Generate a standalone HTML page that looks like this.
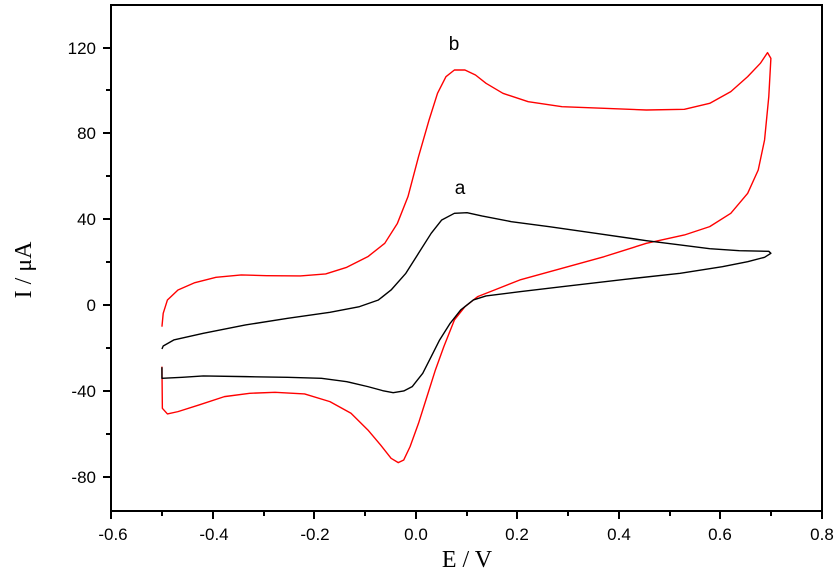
<!DOCTYPE html>
<html><head><style>body{margin:0;background:#fff}svg{display:block}</style></head><body>
<svg width="836" height="573" xmlns="http://www.w3.org/2000/svg">
<rect width="836" height="573" fill="#fff"/>
<g transform="translate(140,30) scale(0.422,0.3333)" fill="none" stroke-linejoin="round">
<polyline vector-effect="non-scaling-stroke" stroke="#ff0000" stroke-width="1.4" points="52,890 55,850 65,810 90,780 130,758 180,742 240,735 300,737 380,738 440,732 490,712 540,680 580,640 610,580 635,500 660,380 685,270 705,190 725,140 745,120 770,120 795,135 820,160 860,190 920,215 1000,230 1100,235 1200,240 1290,238 1350,220 1400,185 1440,140 1470,100 1487,68 1495,85 1490,200 1480,330 1465,420 1440,490 1400,550 1350,590 1290,615 1200,640 1100,680 1000,715 900,750 840,780 800,800 770,830 745,870 720,950 700,1020 680,1100 660,1180 640,1250 625,1290 612,1298 595,1285 570,1245 540,1200 500,1150 450,1115 390,1092 320,1087 260,1090 200,1100 140,1125 90,1145 65,1152 53,1135 52,1010"/>
<polyline vector-effect="non-scaling-stroke" stroke="#000" stroke-width="1.4" points="52,957 55,948 80,930 150,910 250,885 350,865 450,847 520,830 565,810 595,780 630,730 660,670 690,610 715,570 745,550 775,548 810,558 880,575 970,590 1080,610 1200,632 1280,645 1350,656 1420,662 1490,664 1495,670 1480,682 1440,695 1380,710 1280,730 1150,748 1000,770 900,785 820,798 790,810 760,840 735,880 710,930 690,980 670,1030 645,1070 625,1083 600,1088 575,1082 540,1070 490,1055 430,1045 350,1042 250,1040 150,1038 100,1042 52,1045 52,1012"/>
</g>
<rect x="111" y="5" width="711" height="506" fill="none" stroke="#000" stroke-width="2"/>
<g stroke="#000" stroke-width="2">
<line x1="103" y1="48" x2="111" y2="48"/><line x1="106" y1="90" x2="111" y2="90"/>
<line x1="103" y1="133" x2="111" y2="133"/><line x1="106" y1="176" x2="111" y2="176"/>
<line x1="103" y1="219" x2="111" y2="219"/><line x1="106" y1="262" x2="111" y2="262"/>
<line x1="103" y1="305" x2="111" y2="305"/><line x1="106" y1="348" x2="111" y2="348"/>
<line x1="103" y1="391" x2="111" y2="391"/><line x1="106" y1="434" x2="111" y2="434"/>
<line x1="103" y1="477" x2="111" y2="477"/>
<line x1="111" y1="511" x2="111" y2="519"/><line x1="162" y1="511" x2="162" y2="516"/>
<line x1="213" y1="511" x2="213" y2="519"/><line x1="264" y1="511" x2="264" y2="516"/>
<line x1="314" y1="511" x2="314" y2="519"/><line x1="365" y1="511" x2="365" y2="516"/>
<line x1="416" y1="511" x2="416" y2="519"/><line x1="467" y1="511" x2="467" y2="516"/>
<line x1="517" y1="511" x2="517" y2="519"/><line x1="568" y1="511" x2="568" y2="516"/>
<line x1="619" y1="511" x2="619" y2="519"/><line x1="670" y1="511" x2="670" y2="516"/>
<line x1="720" y1="511" x2="720" y2="519"/><line x1="771" y1="511" x2="771" y2="516"/>
<line x1="822" y1="511" x2="822" y2="519"/>
</g>
<g font-family="Liberation Sans, sans-serif" font-size="17" fill="#000" text-anchor="end">
<text x="96" y="54">120</text><text x="96" y="139">80</text><text x="96" y="225">40</text>
<text x="96" y="311">0</text><text x="96" y="397">-40</text><text x="96" y="483">-80</text>
</g>
<g font-family="Liberation Sans, sans-serif" font-size="17" fill="#000" text-anchor="middle">
<text x="113" y="540">-0.6</text><text x="214" y="540">-0.4</text><text x="315" y="540">-0.2</text>
<text x="416" y="540">0.0</text><text x="517" y="540">0.2</text><text x="619" y="540">0.4</text>
<text x="720" y="540">0.6</text><text x="822" y="540">0.8</text>
<text x="454" y="50" font-size="19">b</text><text x="460" y="194" font-size="19">a</text>
</g>
<text x="467" y="567" font-family="Liberation Serif, serif" font-size="24" text-anchor="middle">E / V</text>
<text transform="translate(31,270) rotate(-90)" font-family="Liberation Serif, serif" font-size="24" text-anchor="middle">I / μA</text>
</svg>
</body></html>
